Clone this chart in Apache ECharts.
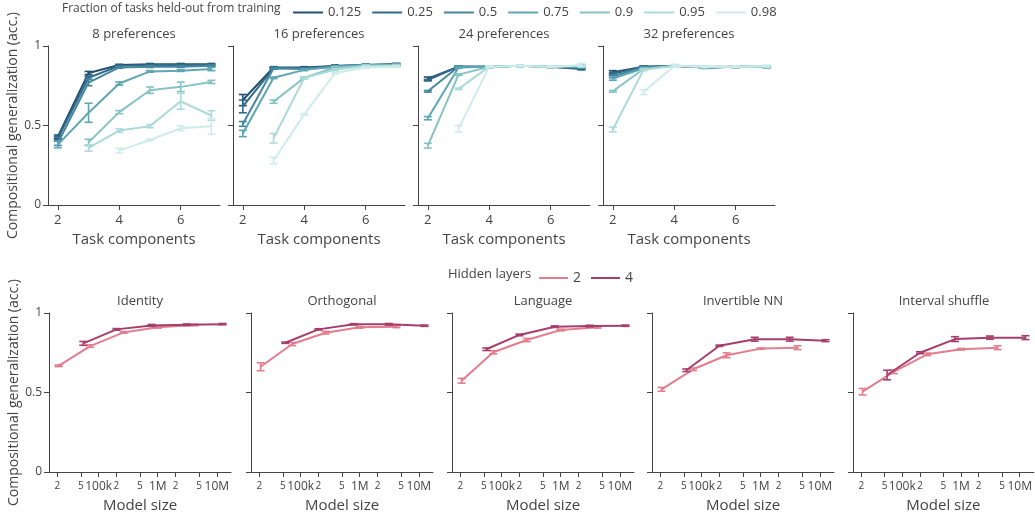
<!DOCTYPE html>
<html>
<head>
<meta charset="utf-8">
<script src="https://cdn.jsdelivr.net/npm/echarts@6/dist/echarts.min.js"></script>
<style>
html,body{margin:0;padding:0;background:#fff;}
#chart{width:1035px;height:515px;}
</style>
</head>
<body>
<div id="chart"></div>
<script>
// ---------------- DATA ----------------
const fractions = ['0.125', '0.25', '0.5', '0.75', '0.9', '0.95', '0.98'];
const components = [2, 3, 4, 5, 6, 7];
const prefTitles = ['8 preferences', '16 preferences', '24 preferences', '32 preferences'];

// accuracy per fraction (rows) per task-component count (columns)
const acc8 = [
  [0.43, 0.83, 0.88, 0.885, 0.885, 0.885],
  [0.42, 0.80, 0.875, 0.88, 0.88, 0.88],
  [0.39, 0.77, 0.865, 0.87, 0.87, 0.875],
  [0.38, 0.58, 0.764, 0.84, 0.845, 0.855],
  [null, 0.394, 0.584, 0.722, 0.743, 0.774],
  [null, 0.359, 0.468, 0.496, 0.652, 0.563],
  [null, null, 0.342, 0.409, 0.483, 0.495]
];
const err8 = [
  [0.01, 0.01, 0.005, 0.005, 0.005, 0.005],
  [0.01, 0.01, 0.005, 0.005, 0.005, 0.005],
  [0.015, 0.02, 0.005, 0.005, 0.005, 0.005],
  [0.02, 0.06, 0.01, 0.005, 0.005, 0.01],
  [null, 0.02, 0.01, 0.02, 0.03, 0.01],
  [null, 0.02, 0.01, 0.01, 0.05, 0.03],
  [null, null, 0.015, 0.005, 0.015, 0.05]
];
const acc16 = [
  [0.66, 0.865, 0.865, 0.875, 0.88, 0.885],
  [0.62, 0.86, 0.86, 0.875, 0.88, 0.885],
  [0.51, 0.86, 0.855, 0.87, 0.88, 0.88],
  [0.45, 0.80, 0.85, 0.87, 0.88, 0.88],
  [null, 0.65, 0.80, 0.865, 0.875, 0.88],
  [null, 0.42, 0.80, 0.85, 0.875, 0.875],
  [null, 0.28, 0.57, 0.83, 0.865, 0.87]
];
const err16 = [
  [0.035, 0.005, 0.005, 0.005, 0.005, 0.005],
  [0.04, 0.005, 0.005, 0.005, 0.005, 0.005],
  [0.015, 0.005, 0.005, 0.005, 0.005, 0.005],
  [0.02, 0.005, 0.005, 0.005, 0.005, 0.005],
  [null, 0.01, 0.005, 0.005, 0.005, 0.005],
  [null, 0.03, 0.005, 0.005, 0.005, 0.005],
  [null, 0.02, 0.005, 0.005, 0.005, 0.005]
];
const acc24 = [
  [0.795, 0.87, 0.87, 0.875, 0.87, 0.855],
  [0.785, 0.87, 0.87, 0.875, 0.87, 0.86],
  [0.715, 0.87, 0.87, 0.875, 0.87, 0.865],
  [0.546, 0.865, 0.87, 0.875, 0.87, 0.87],
  [0.373, 0.82, 0.87, 0.875, 0.87, 0.875],
  [null, 0.73, 0.87, 0.875, 0.87, 0.875],
  [null, 0.48, 0.87, 0.875, 0.87, 0.88]
];
const err24 = [
  [0.01, 0.005, 0.005, 0.005, 0.005, 0.005],
  [0.005, 0.005, 0.005, 0.005, 0.005, 0.005],
  [0.005, 0.005, 0.005, 0.005, 0.005, 0.005],
  [0.01, 0.005, 0.005, 0.005, 0.005, 0.005],
  [0.015, 0.005, 0.005, 0.005, 0.005, 0.005],
  [null, 0.005, 0.005, 0.005, 0.005, 0.005],
  [null, 0.02, 0.005, 0.005, 0.005, 0.01]
];
const acc32 = [
  [0.835, 0.87, 0.875, 0.865, 0.87, 0.87],
  [0.825, 0.87, 0.875, 0.865, 0.87, 0.87],
  [0.81, 0.865, 0.875, 0.865, 0.87, 0.87],
  [0.795, 0.86, 0.875, 0.865, 0.87, 0.87],
  [0.715, 0.855, 0.875, 0.87, 0.87, 0.87],
  [0.475, 0.85, 0.875, 0.87, 0.87, 0.87],
  [null, 0.71, 0.875, 0.87, 0.87, 0.875]
];
const err32 = [
  [0.01, 0.005, 0.005, 0.005, 0.005, 0.005],
  [0.01, 0.005, 0.005, 0.005, 0.005, 0.005],
  [0.01, 0.005, 0.005, 0.005, 0.005, 0.005],
  [0.01, 0.005, 0.005, 0.005, 0.005, 0.005],
  [0.005, 0.005, 0.005, 0.005, 0.005, 0.005],
  [0.015, 0.005, 0.005, 0.005, 0.005, 0.005],
  [null, 0.015, 0.01, 0.005, 0.005, 0.005]
];

// bottom row
const hiddenLayers = ['2', '4'];
const mapTitles = ['Identity', 'Orthogonal', 'Language', 'Invertible NN', 'Interval shuffle'];
const modelSize2 = [21000, 72000, 265000, 1000000, 4200000];
const modelSize4 = [55000, 200000, 790000, 3100000, 12500000];
const xTickValues = [2e4, 5e4, 1e5, 2e5, 5e5, 1e6, 2e6, 5e6, 1e7];

const identity2 = [0.668, 0.792, 0.878, 0.91, 0.925];
const identity4 = [0.809, 0.897, 0.922, 0.926, 0.93];
const identity2Err = [0.005, 0.008, 0.005, 0.005, 0.005];
const identity4Err = [0.012, 0.005, 0.006, 0.005, 0.004];
const orthogonal2 = [0.662, 0.805, 0.876, 0.91, 0.914];
const orthogonal4 = [0.813, 0.897, 0.929, 0.929, 0.92];
const orthogonal2Err = [0.025, 0.01, 0.008, 0.005, 0.006];
const orthogonal4Err = [0.004, 0.004, 0.004, 0.005, 0.004];
const language2 = [0.574, 0.753, 0.83, 0.893, 0.91];
const language4 = [0.772, 0.862, 0.914, 0.918, 0.92];
const language2Err = [0.015, 0.01, 0.01, 0.005, 0.005];
const language4Err = [0.008, 0.005, 0.005, 0.005, 0.004];
const invertible2 = [0.52, 0.646, 0.734, 0.776, 0.782];
const invertible4 = [0.64, 0.794, 0.835, 0.835, 0.826];
const invertible2Err = [0.012, 0.008, 0.015, 0.004, 0.012];
const invertible4Err = [0.008, 0.004, 0.012, 0.012, 0.006];
const shuffle2 = [0.505, 0.631, 0.74, 0.772, 0.782];
const shuffle4 = [0.61, 0.75, 0.836, 0.845, 0.845];
const shuffle2Err = [0.02, 0.012, 0.008, 0.005, 0.012];
const shuffle4Err = [0.03, 0.006, 0.015, 0.01, 0.012];

// ---------------- STYLE ----------------
const fractionColors = ['#23506f', '#316b89', '#4587a0', '#5ea6b2', '#86c2c6', '#abdad8', '#cdecea'];
const layerColors = ['#e27d8d', '#a63e6c'];
const TXT = '#444';
const FONT = '"Open Sans", "Noto Sans", sans-serif';

const topLefts = [48, 233, 418, 603];
const topW = 172, topTop = 46, rowH = 159;
const botLefts = [49, 251, 452, 652, 853];
const botW = 182, botTop = 313;

const accTop = [acc8, acc16, acc24, acc32];
const errTop = [err8, err16, err24, err32];
const accBot = [[identity2, identity4], [orthogonal2, orthogonal4], [language2, language4], [invertible2, invertible4], [shuffle2, shuffle4]];
const errBot = [[identity2Err, identity4Err], [orthogonal2Err, orthogonal4Err], [language2Err, language4Err], [invertible2Err, invertible4Err], [shuffle2Err, shuffle4Err]];
const sizesBot = [modelSize2, modelSize4];

function errRender(params, api) {
  const x = api.value(0);
  const lo = api.coord([x, api.value(1)]);
  const hi = api.coord([x, api.value(2)]);
  const c = api.visual('color');
  const w = 4;
  const st = { stroke: c, lineWidth: 1.6 };
  return {
    type: 'group',
    children: [
      { type: 'line', shape: { x1: lo[0], y1: lo[1], x2: hi[0], y2: hi[1] }, style: st },
      { type: 'line', shape: { x1: lo[0] - w, y1: lo[1], x2: lo[0] + w, y2: lo[1] }, style: st },
      { type: 'line', shape: { x1: hi[0] - w, y1: hi[1], x2: hi[0] + w, y2: hi[1] }, style: st }
    ]
  };
}

const grid = [], xAxis = [], yAxis = [], series = [], title = [];

function yAxisCfg(gi, showLabel) {
  return {
    type: 'value', gridIndex: gi, min: 0, max: 1, interval: 0.5,
    axisLine: { show: true, lineStyle: { color: TXT, width: 1 } },
    axisTick: { show: true, length: 5, lineStyle: { color: TXT } },
    axisLabel: { show: showLabel, color: TXT, fontSize: 12, fontFamily: FONT, margin: 7 },
    splitLine: { show: false },
    name: showLabel ? 'Compositional generalization (acc.)' : '',
    nameLocation: 'middle', nameGap: 17,
    nameTextStyle: { color: TXT, fontSize: 14, fontFamily: FONT }
  };
}

// top row
topLefts.forEach((left, p) => {
  grid.push({ left: left, top: topTop, width: topW, height: rowH });
  xAxis.push({
    type: 'value', gridIndex: p, min: 1.68, max: 7.28,
    axisLine: { show: true, onZero: false, lineStyle: { color: TXT, width: 1 } },
    axisTick: { show: true, length: 5, customValues: [2, 4, 6], lineStyle: { color: TXT } },
    axisLabel: { show: true, customValues: [2, 4, 6], color: TXT, fontSize: 13, fontFamily: FONT, margin: 9 },
    splitLine: { show: false },
    name: 'Task components', nameLocation: 'middle', nameGap: 27,
    nameTextStyle: { color: TXT, fontSize: 15, fontFamily: FONT }
  });
  yAxis.push(yAxisCfg(p, p === 0));
  title.push({
    text: prefTitles[p], left: left + topW / 2, top: 28, textAlign: 'center', padding: 0,
    textStyle: { color: TXT, fontSize: 13, fontWeight: 'normal', fontFamily: FONT }
  });
  fractions.forEach((f, s) => {
    const ys = accTop[p][s], es = errTop[p][s];
    const ld = [], ed = [];
    components.forEach((x, i) => {
      if (ys[i] == null) return;
      ld.push([x, ys[i]]);
      ed.push([x, ys[i] - es[i], ys[i] + es[i]]);
    });
    series.push({
      type: 'line', name: f, xAxisIndex: p, yAxisIndex: p, data: ld,
      symbol: 'none', color: fractionColors[s],
      lineStyle: { width: 2, color: fractionColors[s] }, z: 2 + s * 0.01, animation: false
    });
    series.push({
      type: 'custom', name: f + ' err', xAxisIndex: p, yAxisIndex: p, data: ed,
      renderItem: errRender, encode: { x: 0, y: [1, 2] },
      itemStyle: { color: fractionColors[s] }, z: 2 + s * 0.01, animation: false, silent: true
    });
  });
});

// bottom row
const lg = v => Math.log10(v);
const xTicksLog = xTickValues.map(lg);
botLefts.forEach((left, q) => {
  const gi = 4 + q;
  grid.push({ left: left, top: botTop, width: botW, height: rowH });
  xAxis.push({
    type: 'value', gridIndex: gi, min: 4.16, max: 7.24,
    axisLine: { show: true, onZero: false, lineStyle: { color: TXT, width: 1 } },
    axisTick: { show: true, length: 5, customValues: xTicksLog, lineStyle: { color: TXT } },
    axisLabel: {
      show: true, customValues: xTicksLog, color: TXT, fontFamily: FONT, margin: 9,
      formatter: v => {
        const n = Math.round(Math.pow(10, v));
        if (n === 100000) return '{b|100k}';
        if (n === 1000000) return '{b|1M}';
        if (n === 10000000) return '{b|10M}';
        return '{s|' + String(n).charAt(0) + '}';
      },
      rich: {
        s: { fontSize: 10, color: TXT, fontFamily: FONT, padding: [0, 0, 3, 0] },
        b: { fontSize: 12, color: TXT, fontFamily: FONT }
      }
    },
    splitLine: { show: false },
    name: 'Model size', nameLocation: 'middle', nameGap: 26,
    nameTextStyle: { color: TXT, fontSize: 15, fontFamily: FONT }
  });
  yAxis.push(yAxisCfg(gi, q === 0));
  title.push({
    text: mapTitles[q], left: left + botW / 2, top: 295, textAlign: 'center', padding: 0,
    textStyle: { color: TXT, fontSize: 13, fontWeight: 'normal', fontFamily: FONT }
  });
  hiddenLayers.forEach((h, s) => {
    const ys = accBot[q][s], es = errBot[q][s], xs = sizesBot[s];
    const ld = xs.map((x, i) => [lg(x), ys[i]]);
    const ed = xs.map((x, i) => [lg(x), ys[i] - es[i], ys[i] + es[i]]);
    series.push({
      type: 'line', name: h, xAxisIndex: gi, yAxisIndex: gi, data: ld,
      symbol: 'none', color: layerColors[s],
      lineStyle: { width: 2, color: layerColors[s] }, z: 2 + s * 0.01, animation: false
    });
    series.push({
      type: 'custom', name: h + ' err', xAxisIndex: gi, yAxisIndex: gi, data: ed,
      renderItem: errRender, encode: { x: 0, y: [1, 2] },
      itemStyle: { color: layerColors[s] }, z: 2 + s * 0.01, animation: false, silent: true
    });
  });
});

title.push({
  text: 'Fraction of tasks held-out from training', left: 62, top: 3, padding: 0,
  textStyle: { color: TXT, fontSize: 12, fontWeight: 'normal', fontFamily: FONT }
});
title.push({
  text: 'Hidden layers', left: 448, top: 268, padding: 0,
  textStyle: { color: TXT, fontSize: 13, fontWeight: 'normal', fontFamily: FONT }
});

const option = {
  animation: false,
  backgroundColor: '#fff',
  textStyle: { fontFamily: FONT },
  title: title,
  grid: grid,
  xAxis: xAxis,
  yAxis: yAxis,
  legend: [
    {
      data: fractions, left: 293, top: 6, orient: 'horizontal', padding: 0,
      icon: 'rect', itemWidth: 30, itemHeight: 2, itemGap: 11,
      textStyle: { color: TXT, fontSize: 13, fontFamily: FONT },
      selectedMode: false
    },
    {
      data: hiddenLayers, left: 539, top: 271, orient: 'horizontal', padding: 0,
      icon: 'rect', itemWidth: 29, itemHeight: 2, itemGap: 10,
      textStyle: { color: TXT, fontSize: 14, fontFamily: FONT },
      selectedMode: false
    }
  ],
  series: series
};

const chart = echarts.init(document.getElementById('chart'), null, { renderer: 'canvas' });
chart.setOption(option);
</script>
</body>
</html>
